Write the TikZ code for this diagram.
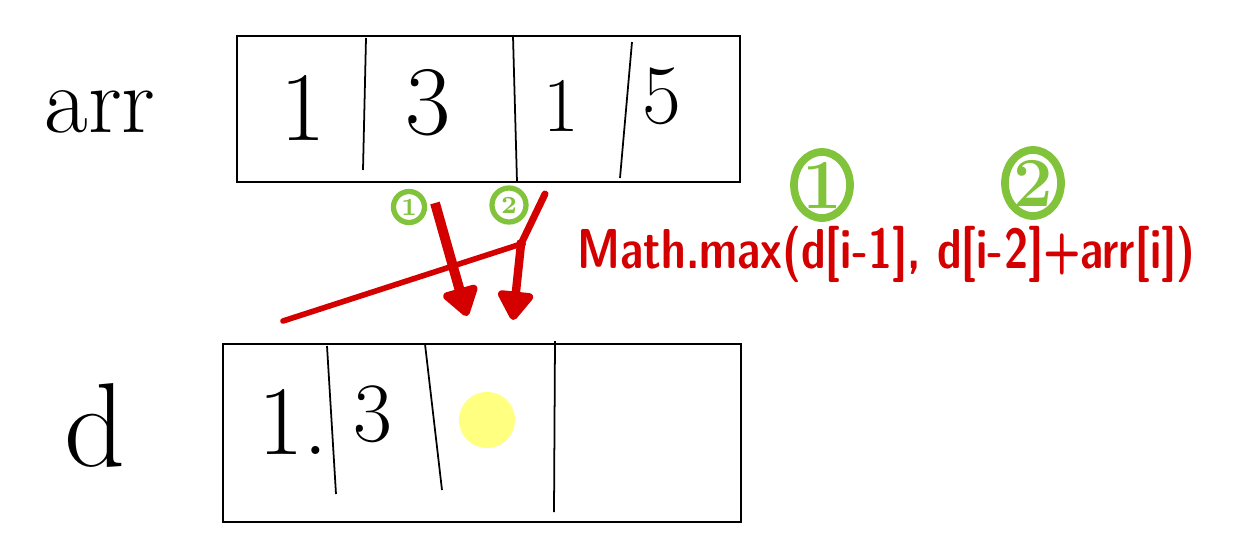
\documentclass[tikz,border=0pt]{standalone}
\usepackage{tikz}
\usetikzlibrary{arrows.meta,positioning,shapes.geometric}

\definecolor{penred}{RGB}{212,0,0}
\definecolor{pengreen}{RGB}{130,195,60}
\definecolor{marker}{RGB}{255,255,128}

\tikzset{
  cellbox/.style={draw, line width=0.6pt, inner sep=0pt},
  divider/.style={line width=0.5pt},
  hand/.style={font=\fontsize{28}{28}\selectfont, inner sep=0pt},
  greenmark/.style={draw=pengreen, line width=1.5pt, circle, inner sep=0pt,
    minimum size=0.31cm, text=pengreen, font=\bfseries\scriptsize},
  biggreen/.style={draw=pengreen, line width=2.2pt, ellipse, inner sep=0pt,
    text=pengreen, font=\bfseries\fontsize{20}{20}\selectfont},
  redarrow/.style={draw=penred, line width=2.4pt,
    -{Triangle[length=0.32cm, width=0.4cm, round]}},
  formula/.style={text=penred, font=\sffamily\bfseries\fontsize{16}{16}\selectfont,
    inner sep=0pt}
}

\begin{document}
\begin{tikzpicture}[x=0.01cm, y=-0.01cm]
\useasboundingbox (0,0) rectangle (1242,545);

% labels
\node[hand, font=\fontsize{27}{27}\selectfont] (arrlab) at (100,112) {arr};
\node[hand, font=\fontsize{34}{34}\selectfont] (dlab) at (95,425) {d};

% arr box
\node[cellbox, minimum width=5.03cm, minimum height=1.46cm] (arrbox) at (488.5,109) {};
\draw[divider] (366,38) -- (363,170);
\draw[divider] (513,36) -- (517,182);
\draw[divider] (632,42) -- (620,178);
\node[hand] (a1) at (303,108) {1};
\node[hand] (a2) at (428,103) {3};
\node[hand, font=\fontsize{22}{22}\selectfont] (a3) at (561,106) {1};
\node[hand, font=\fontsize{24}{24}\selectfont] (a4) at (662,96) {5};

% d box
\node[cellbox, minimum width=5.18cm, minimum height=1.78cm] (dbox) at (482,433) {};
\draw[divider] (327,346) -- (336,494);
\draw[divider] (425,344) -- (442,490);
\draw[divider] (555,341) -- (554,512);
\node[hand] (d1) at (293,422) {1.};
\node[hand, font=\fontsize{24}{24}\selectfont] (d2) at (373,414) {3};
\node[circle, fill=marker, minimum size=0.56cm, inner sep=0pt] (cur) at (487,420) {};

% small green marks
\node[greenmark] (g1) at (409,207) {1};
\node[greenmark, minimum size=0.34cm] (g2) at (509,205) {2};

% red arrows
\coordinate (s1) at (435,203);
\coordinate (e1) at (467,316);
\coordinate (s2) at (545,194);
\coordinate (j2) at (521,244);
\coordinate (e2) at (513,320);
\coordinate (tail) at (283,321);
\draw[draw=penred, line width=1.6pt, line cap=round] (tail) -- (j2);
\draw[redarrow, line width=2.8pt] (s1) -- (e1);
\draw[draw=penred, line width=2pt, line cap=round] (s2) -- (j2);
\draw[redarrow] (j2) -- (e2);
\fill[penred] (j2) circle (0.05cm);

% formula
\node[formula, anchor=base west] (maxf) at (577,268)
  {\scalebox{0.78}[1]{Math.max(d[i-1], d[i-2]+arr[i])}};

% big green marks
\node[biggreen, minimum width=0.48cm, minimum height=0.66cm] (b1) at (822,185) {1};
\node[biggreen, minimum width=0.56cm, minimum height=0.66cm] (b2) at (1033,183) {2};

\end{tikzpicture}
\end{document}
